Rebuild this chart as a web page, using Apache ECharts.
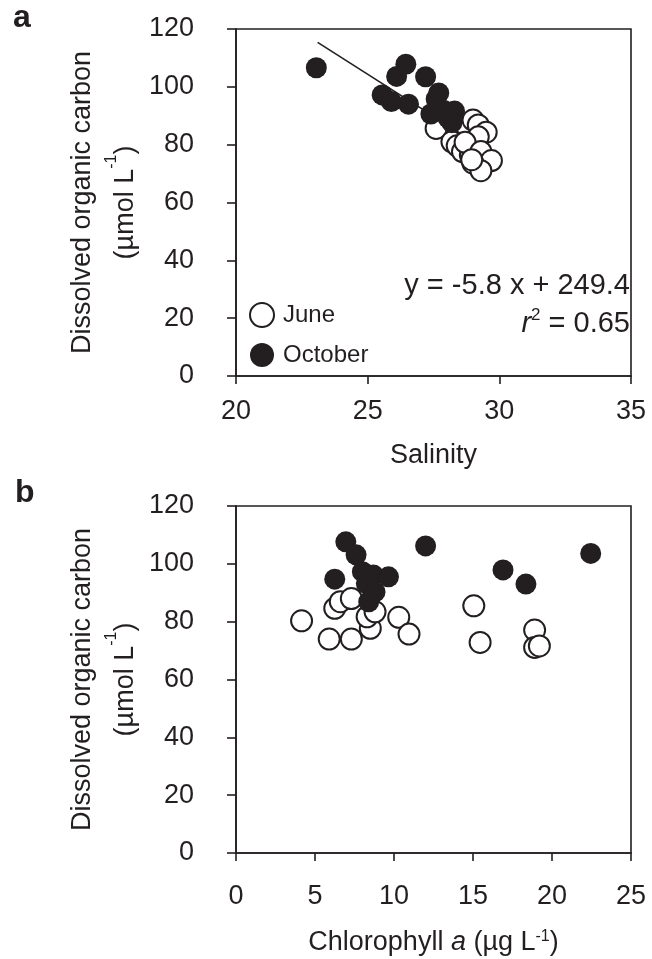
<!DOCTYPE html>
<html>
<head>
<meta charset="utf-8">
<script src="https://cdn.jsdelivr.net/npm/echarts@6/dist/echarts.min.js"></script>
<style>
html,body{margin:0;padding:0;background:#fff;}
#chart{width:652px;height:959px;}
</style>
</head>
<body>
<div id="chart"></div>
<script>
// panel a : salinity vs DOC
var juneSal=[27.6,28.2,28.4,28.6,28.9,29.0,29.2,29.5,29.2,28.7,29.3,29.7,29.0,29.3,28.95];
var juneDocA=[85.6,81.0,79.6,77.6,76.4,88.5,86.8,84.3,82.7,80.8,77.6,74.5,73.6,71.0,74.8];
var octSal=[23.05,26.45,26.1,27.2,25.55,25.9,26.55,27.7,27.6,27.4,27.9,28.3,28.2,28.05];
var octDocA=[106.6,107.8,103.6,103.5,97.2,94.9,94.0,97.9,95.8,90.6,91.8,91.6,87.6,89.3];
// fitted line end points (y = -5.8 x + 249.4)
var fitSal=[23.1,29.7];
var fitDoc=[115.4,77.1];

// panel b : chlorophyll a vs DOC
var juneChl=[4.15,5.9,7.3,6.25,6.6,7.3,8.5,8.3,8.8,10.3,10.95,15.05,15.45,18.9,18.9,19.2];
var juneDocB=[80.3,74.0,74.0,84.6,86.9,88.0,77.7,81.7,83.4,81.5,75.7,85.5,72.8,77.1,71.1,71.6];
var octChl=[6.95,7.6,12.0,6.25,8.0,8.7,9.65,8.25,8.8,8.4,16.9,18.35,22.45];
var octDocB=[107.6,103.1,106.2,94.7,97.3,96.1,95.5,93.2,90.3,86.9,97.9,93.0,103.6];

var salTicks=[20,25,30,35];
var chlTicks=[0,5,10,15,20,25];
var docTicks=[0,20,40,60,80,100,120];

function pairs(xs,ys){
	var out=[];
	for(var i=0;i<xs.length;i++){
		out.push([xs[i],ys[i]]);
	}
	return out;
}

var ink='#231f20';
var font='"Liberation Sans", Arial, sans-serif';
var fs=27;

function yAxisOpt(idx){
	return {
		gridIndex:idx,
		type:'value',
		min:docTicks[0],
		max:docTicks[docTicks.length-1],
		interval:20,
		name:'Dissolved organic carbon\n(µmol L{s|-1})',
		nameLocation:'middle',
		nameGap:89,
		nameMoveOverlap:false,
		nameRotate:90,
		nameTextStyle:{
			color:ink,fontFamily:font,fontSize:fs,lineHeight:43,
			rich:{s:{fontSize:16,verticalAlign:'top',lineHeight:37,color:ink,fontFamily:font}}
		},
		axisLine:{show:true,lineStyle:{color:ink,width:1.6}},
		axisTick:{show:true,inside:false,length:9,lineStyle:{color:ink,width:1.6}},
		axisLabel:{color:ink,fontFamily:font,fontSize:fs,margin:42},
		splitLine:{show:false}
	};
}

function xAxisOpt(idx,ticks,name,gap,margin){
	return {
		gridIndex:idx,
		type:'value',
		min:ticks[0],
		max:ticks[ticks.length-1],
		interval:5,
		name:name,
		nameLocation:'middle',
		nameGap:gap,
		nameMoveOverlap:false,
		nameTextStyle:{
			color:ink,fontFamily:font,fontSize:fs,
			rich:{
				i:{fontStyle:'italic',fontSize:fs,color:ink,fontFamily:font},
				s:{fontSize:16,verticalAlign:'top',color:ink,fontFamily:font}
			}
		},
		axisLine:{show:true,onZero:false,lineStyle:{color:ink,width:1.6}},
		axisTick:{show:true,inside:false,length:8,lineStyle:{color:ink,width:1.6}},
		axisLabel:{color:ink,fontFamily:font,fontSize:fs,margin:margin},
		splitLine:{show:false}
	};
}

var openStyle={color:'#ffffff',borderColor:ink,borderWidth:2,opacity:1};
var fillStyle={color:ink,borderColor:ink,borderWidth:0,opacity:1};
var dot=21;

var chart=echarts.init(document.getElementById('chart'),null,{renderer:'canvas'});
var option={
	animation:false,
	backgroundColor:'#ffffff',
	title:[
		{text:'a',left:8,top:-3,textStyle:{fontFamily:font,fontSize:32,fontWeight:'bold',color:ink}},
		{text:'b',left:10,top:472,textStyle:{fontFamily:font,fontSize:32,fontWeight:'bold',color:ink}}
	],
	grid:[
		{left:236,top:29,width:395,height:347,show:true,borderColor:ink,borderWidth:1.6,backgroundColor:'transparent'},
		{left:236,top:506,width:395,height:347,show:true,borderColor:ink,borderWidth:1.6,backgroundColor:'transparent'}
	],
	xAxis:[
		xAxisOpt(0,salTicks,'Salinity',66,22),
		xAxisOpt(1,chlTicks,'Chlorophyll {i|a} (µg L{s|-1})',76,30)
	],
	yAxis:[yAxisOpt(0),yAxisOpt(1)],
	legend:{
		data:['June','October'],
		orient:'vertical',
		left:244,
		top:297,
		itemWidth:24,
		itemHeight:24,
		itemGap:15,
		icon:'circle',
		textStyle:{color:ink,fontFamily:font,fontSize:24,padding:[0,0,0,4]},
		selectedMode:false
	},
	graphic:[
		{type:'text',right:22,top:271,style:{text:'y = -5.8 x + 249.4',fill:ink,font:'29px '+font}},
		{
			type:'text',right:22,top:307,
			style:{
				text:'{i|r}{s|2} = 0.65',
				fill:ink,
				font:'29px '+font,
				rich:{
					i:{fontStyle:'italic',fontSize:29,fontFamily:font,fill:ink,lineHeight:33},
					s:{fontSize:17,fontFamily:font,verticalAlign:'top',fill:ink,lineHeight:33}
				}
			}
		}
	],
	series:[
		{
			name:'fit',type:'line',xAxisIndex:0,yAxisIndex:0,
			data:pairs(fitSal,fitDoc),symbol:'none',z:1,
			lineStyle:{color:ink,width:1.6}
		},
		{
			name:'June',type:'scatter',xAxisIndex:0,yAxisIndex:0,
			data:pairs(juneSal,juneDocA),symbol:'circle',symbolSize:dot,z:2,
			itemStyle:openStyle
		},
		{
			name:'October',type:'scatter',xAxisIndex:0,yAxisIndex:0,
			data:pairs(octSal,octDocA),symbol:'circle',symbolSize:dot,z:3,
			itemStyle:fillStyle
		},
		{
			name:'June',type:'scatter',xAxisIndex:1,yAxisIndex:1,
			data:pairs(juneChl,juneDocB),symbol:'circle',symbolSize:dot,z:2,
			itemStyle:openStyle
		},
		{
			name:'October',type:'scatter',xAxisIndex:1,yAxisIndex:1,
			data:pairs(octChl,octDocB),symbol:'circle',symbolSize:dot,z:3,
			itemStyle:fillStyle
		}
	]
};
chart.setOption(option);
</script>
</body>
</html>
